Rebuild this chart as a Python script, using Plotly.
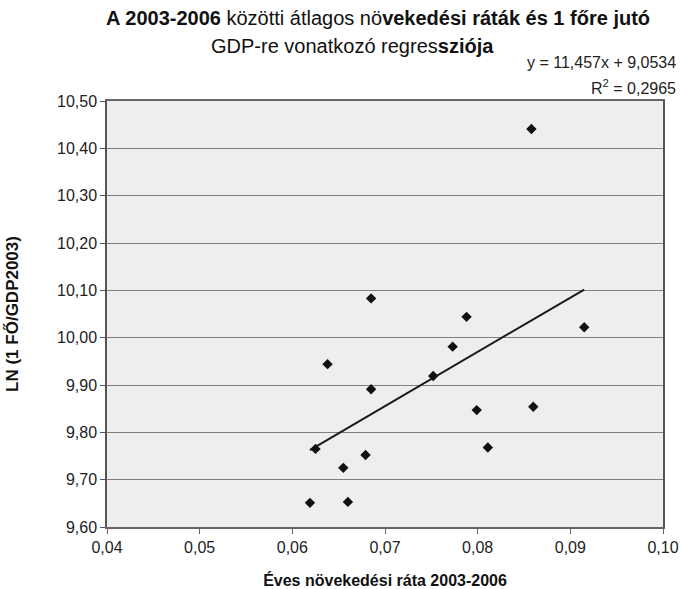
import plotly.graph_objects as go

growth_rate = [0.0858, 0.0788, 0.0915, 0.0773, 0.0685, 0.0638, 0.0685, 0.0625,
               0.0679, 0.0655, 0.0619, 0.0660, 0.0752, 0.0799, 0.0860, 0.0811]
ln_gdp = [10.441, 10.044, 10.022, 9.981, 10.083, 9.944, 9.891, 9.765,
          9.752, 9.725, 9.651, 9.653, 9.919, 9.847, 9.854, 9.768]
slope = 11.457
intercept = 9.0534
r_squared = 0.2965

x_ticks = [0.04, 0.05, 0.06, 0.07, 0.08, 0.09, 0.10]
y_ticks = [9.6, 9.7, 9.8, 9.9, 10.0, 10.1, 10.2, 10.3, 10.4, 10.5]

x_line = [min(growth_rate), max(growth_rate)]
y_line = [slope * v + intercept for v in x_line]

fig = go.Figure()
fig.add_trace(go.Scatter(x=x_line, y=y_line, mode="lines",
                         line=dict(color="#1a1a1a", width=2), showlegend=False,
                         hoverinfo="skip"))
fig.add_trace(go.Scatter(x=growth_rate, y=ln_gdp, mode="markers",
                         marker=dict(symbol="diamond", size=8, color="#111111"),
                         showlegend=False))

font_family = "Liberation Sans, Arial, sans-serif"

fig.update_layout(
    width=683, height=589,
    separators=", ",
    paper_bgcolor="white",
    plot_bgcolor="#eeeeee",
    margin=dict(l=107, r=20, t=101, b=62),
    font=dict(family=font_family, color="#222222", size=16),
    xaxis=dict(
        range=[0.04, 0.10], tickvals=x_ticks, tickformat=".2f",
        showgrid=False, zeroline=False, automargin=False,
        showline=True, linecolor="#666666", linewidth=1.5, mirror=True,
        ticks="outside", ticklen=5, tickcolor="#666666",
        tickfont=dict(size=16, color="#222222"),
        title=dict(text="<b>Éves növekedési ráta 2003-2006</b>",
                   font=dict(size=16, color="#111111"), standoff=22),
    ),
    yaxis=dict(
        range=[9.6, 10.5], tickvals=y_ticks, tickformat=".2f",
        showgrid=True, gridcolor="#808080", gridwidth=1.3, zeroline=False,
        automargin=False,
        showline=True, linecolor="#555555", linewidth=1.5, mirror=True,
        ticks="outside", ticklen=5, tickcolor="#555555",
        tickfont=dict(size=16, color="#222222"),
        title=dict(text="<b>LN (1 FŐ/GDP2003)</b>",
                   font=dict(size=17, color="#111111"), standoff=34),
    ),
    annotations=[
        dict(text="<b>A 2003-2006</b> közötti átlagos nö<b>vekedési ráták és 1 főre jutó</b>",
             xref="paper", yref="paper", x=0.487, y=1.195,
             xanchor="center", yanchor="middle", showarrow=False,
             font=dict(size=20, color="#111111")),
        dict(text="GDP-re vonatkozó regres<b>sziója</b>",
             xref="paper", yref="paper", x=0.442, y=1.129,
             xanchor="center", yanchor="middle", showarrow=False,
             font=dict(size=20, color="#111111")),
        dict(text="y = 11,457x + 9,0534", xref="paper", yref="paper",
             x=1.027, y=1.0915, xanchor="right", yanchor="middle", showarrow=False,
             font=dict(size=16, color="#222222")),
        dict(text="R<sup>2</sup> = 0,2965", xref="paper", yref="paper",
             x=1.027, y=1.033, xanchor="right", yanchor="middle", showarrow=False,
             font=dict(size=16, color="#222222")),
    ],
)

fig.write_html("out.html", config={"displayModeBar": False},
               post_script="document.body.style.margin='0';")
